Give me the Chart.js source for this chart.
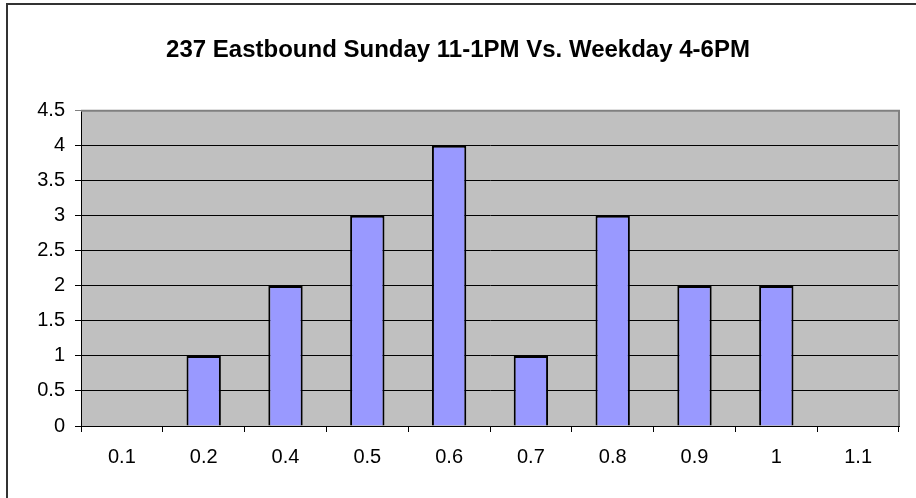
<!DOCTYPE html>
<html>
<head>
<meta charset="utf-8">
<script src="https://cdn.jsdelivr.net/npm/chart.js@4/dist/chart.umd.min.js"></script>
<style>
  html, body { margin: 0; padding: 0; background: #ffffff; }
  #wrap { position: relative; width: 916px; height: 498px; }
  canvas { display: block; }
</style>
</head>
<body>
<div id="wrap"><canvas id="c" width="916" height="498"></canvas></div>
<script>
const chartTitle = "237 Eastbound Sunday 11-1PM Vs. Weekday 4-6PM";
const categories = ["0.1", "0.2", "0.4", "0.5", "0.6", "0.7", "0.8", "0.9", "1", "1.1"];
const counts = [0, 1, 2, 3, 4, 1, 3, 2, 2, 0];
const yTicks = [0, 0.5, 1, 1.5, 2, 2.5, 3, 3.5, 4, 4.5];

const FONT = "'Liberation Sans', Arial, sans-serif";

const framePlugin = {
  id: 'frame',
  beforeDraw(chart) {
    const ctx = chart.ctx;
    const a = chart.chartArea;
    ctx.save();
    ctx.fillStyle = '#ffffff';
    ctx.fillRect(0, 0, chart.width, chart.height);
    ctx.fillStyle = '#C0C0C0';
    ctx.fillRect(a.left, a.top, a.right - a.left, a.bottom - a.top);
    ctx.restore();
  },
  afterDraw(chart) {
    const ctx = chart.ctx;
    const a = chart.chartArea;
    ctx.save();
    ctx.strokeStyle = '#333333';
    ctx.lineWidth = 2;
    ctx.beginPath();
    ctx.moveTo(7, chart.height + 2);
    ctx.lineTo(7, 4);
    ctx.lineTo(chart.width + 2, 4);
    ctx.stroke();
    ctx.strokeStyle = '#808080';
    ctx.lineWidth = 2;
    ctx.beginPath();
    ctx.moveTo(a.left, a.top);
    ctx.lineTo(a.right, a.top);
    ctx.lineTo(a.right, a.bottom);
    ctx.stroke();
    ctx.restore();
  }
};

new Chart(document.getElementById('c'), {
  type: 'bar',
  data: {
    labels: categories,
    datasets: [{
      data: counts,
      backgroundColor: '#9999FF',
      borderColor: '#000000',
      borderWidth: 2,
      barPercentage: 0.42,
      categoryPercentage: 1.0
    }]
  },
  options: {
    responsive: false,
    animation: false,
    devicePixelRatio: 1,
    layout: { padding: { left: 17, right: 17, top: 0, bottom: 0 } },
    plugins: {
      legend: { display: false },
      tooltip: { enabled: false },
      title: {
        display: true,
        text: chartTitle,
        color: '#000000',
        font: { family: FONT, size: 24, weight: 'bold' },
        padding: { top: 36, bottom: 46 }
      }
    },
    scales: {
      x: {
        offset: true,
        grid: {
          offset: true,
          drawOnChartArea: false,
          drawTicks: true,
          tickLength: 6,
          color: '#000000',
          lineWidth: 1
        },
        border: { display: true, color: '#000000', width: 1 },
        ticks: {
          color: '#000000',
          font: { family: FONT, size: 20 },
          padding: 13,
          maxRotation: 0,
          autoSkip: false
        },
        afterFit(scale) { scale.height = 72; }
      },
      y: {
        min: 0,
        max: 4.5,
        afterBuildTicks(scale) { scale.ticks = yTicks.map(v => ({ value: v })); },
        grid: {
          drawTicks: true,
          tickLength: 6,
          color: (c) => (c.tick && c.tick.value === 4.5) ? '#808080' : '#000000',
          lineWidth: 1
        },
        border: { display: true, color: '#000000', width: 1 },
        ticks: {
          color: '#000000',
          font: { family: FONT, size: 20 },
          padding: 10,
          callback: (v) => String(v)
        },
        afterFit(scale) { scale.width = 64; }
      }
    }
  },
  plugins: [framePlugin]
});
</script>
</body>
</html>
